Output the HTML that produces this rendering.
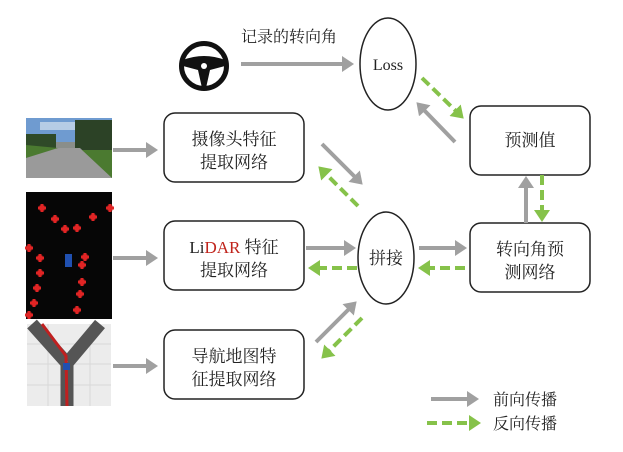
<!DOCTYPE html>
<html><head><meta charset="utf-8"><style>
html,body{margin:0;padding:0;background:#fff;}
svg{display:block;}
text{font-family:"Liberation Serif","Noto Serif CJK SC",serif;fill:#222;}
</style></head><body>
<svg width="623" height="452" viewBox="0 0 623 452" xmlns="http://www.w3.org/2000/svg">
<defs>
<marker id="g" markerWidth="4" markerHeight="4" refX="1" refY="2" orient="auto" markerUnits="strokeWidth"><path d="M0,0 L3,2 L0,4 z" fill="#a0a0a0"/></marker>
<marker id="n" markerWidth="4" markerHeight="4" refX="1" refY="2" orient="auto" markerUnits="strokeWidth"><path d="M0,0 L3,2 L0,4 z" fill="#86c24a"/></marker>
<g id="x"><rect x="-4" y="-1.5" width="8" height="3"/><rect x="-1.5" y="-4" width="3" height="8"/><rect x="-2.5" y="-2.5" width="5" height="5"/></g>
</defs>
<!-- camera image -->
<rect x="26" y="118" width="86" height="60" fill="#8a8e8a"/>
<rect x="26" y="118" width="86" height="24" fill="#6f9bd0"/>
<rect x="40" y="122" width="40" height="8" fill="#c8d8ea" opacity="0.8"/>
<rect x="26" y="134" width="30" height="14" fill="#2f4a28"/>
<rect x="75" y="120" width="37" height="30" fill="#2c4226"/>
<polygon points="26,152 60,148 80,148 112,178 26,178" fill="#9a9a9a"/>
<polygon points="82,150 112,150 112,178" fill="#4b7a30"/>
<polygon points="26,145 58,148 26,158" fill="#4b7a30"/>
<!-- lidar image -->
<rect x="26" y="192" width="86" height="127" fill="#060606"/>
<g fill="#e02424">
<use href="#x" x="42" y="208"/><use href="#x" x="55" y="219"/><use href="#x" x="65" y="229"/>
<use href="#x" x="93" y="217"/><use href="#x" x="77" y="228"/><use href="#x" x="29" y="248"/>
<use href="#x" x="40" y="258"/><use href="#x" x="85" y="257"/><use href="#x" x="40" y="273"/>
<use href="#x" x="82" y="265"/><use href="#x" x="37" y="288"/><use href="#x" x="82" y="282"/>
<use href="#x" x="34" y="303"/><use href="#x" x="80" y="294"/><use href="#x" x="77" y="310"/>
<use href="#x" x="110" y="208"/><use href="#x" x="29" y="315"/>
</g>
<rect x="65" y="254" width="7" height="13" fill="#2050b0"/>
<!-- map image -->
<rect x="27" y="324" width="84" height="82" fill="#ececec"/>
<g stroke="#d8d8d8" stroke-width="1"><line x1="27" y1="344" x2="111" y2="344"/><line x1="27" y1="364" x2="111" y2="364"/><line x1="27" y1="385" x2="111" y2="385"/><line x1="48" y1="324" x2="48" y2="406"/><line x1="90" y1="324" x2="90" y2="406"/></g>
<path d="M32,324 L66,362 M100,324 L68,362 M67,362 L67,406" stroke="#555" stroke-width="13" fill="none"/>
<path d="M42,324 L66,356 L67,406" stroke="#c02020" stroke-width="3" fill="none"/>
<rect x="63" y="363" width="7" height="7" fill="#2050b0"/>
<!-- steering wheel -->
<circle cx="204" cy="66" r="22.5" fill="none" stroke="#111" stroke-width="5"/>
<path d="M183,60 Q204,52 225,60 L225,66 L210,70 L206,88 L202,88 L198,70 L183,66 z" fill="#111"/>
<circle cx="204" cy="66" r="3" fill="#fff"/>
<text x="241" y="42" font-size="16">记录的转向角</text>
<!-- boxes -->
<g fill="#fff" stroke="#222" stroke-width="1.5">
<rect x="164" y="113" width="140" height="69" rx="11"/>
<rect x="164" y="221" width="140" height="69" rx="11"/>
<rect x="164" y="330" width="140" height="69" rx="11"/>
<rect x="470" y="106" width="120" height="69" rx="11"/>
<rect x="470" y="223" width="120" height="69" rx="11"/>
<ellipse cx="388" cy="64" rx="28" ry="46"/>
<ellipse cx="386" cy="258" rx="28" ry="46"/>
</g>
<g font-size="17" text-anchor="middle">
<text x="234" y="145">摄像头特征</text><text x="234" y="168">提取网络</text>
<text x="234" y="253"><tspan>Li</tspan><tspan fill="#c0241c">DAR</tspan> 特征</text><text x="234" y="276">提取网络</text>
<text x="234" y="362">导航地图特</text><text x="234" y="385">征提取网络</text>
<text x="530" y="146">预测值</text>
<text x="530" y="255">转向角预</text><text x="530" y="278">测网络</text>
<text x="386" y="264">拼接</text>
<text x="388" y="70" font-size="16">Loss</text>
</g>
<text x="493" y="405" font-size="16">前向传播</text>
<text x="493" y="429" font-size="16">反向传播</text>
<!-- gray arrows -->
<g stroke="#a0a0a0" stroke-width="4" fill="none" marker-end="url(#g)">
<line x1="241" y1="64" x2="346" y2="64"/>
<line x1="113" y1="150" x2="150" y2="150"/>
<line x1="113" y1="258" x2="150" y2="258"/>
<line x1="113" y1="366" x2="150" y2="366"/>
<line x1="455" y1="142" x2="422" y2="108"/>
<line x1="322" y1="144" x2="357" y2="179"/>
<line x1="306" y1="248" x2="348" y2="248"/>
<line x1="419" y1="248" x2="459" y2="248"/>
<line x1="526" y1="223" x2="526" y2="184"/>
<line x1="316" y1="342" x2="351" y2="307"/>
<line x1="431" y1="399" x2="471" y2="399"/>
</g>
<!-- green arrows -->
<g stroke="#86c24a" stroke-width="4" fill="none" stroke-dasharray="10,5" marker-end="url(#n)">
<line x1="422" y1="78" x2="458" y2="113"/>
<line x1="358" y1="206" x2="324" y2="172"/>
<line x1="357" y1="268" x2="316" y2="268"/>
<line x1="465" y1="268" x2="426" y2="268"/>
<line x1="542" y1="175" x2="542" y2="214"/>
<line x1="362" y1="318" x2="327" y2="353"/>
<line x1="427" y1="423" x2="473" y2="423"/>
</g>
</svg>
</body></html>
